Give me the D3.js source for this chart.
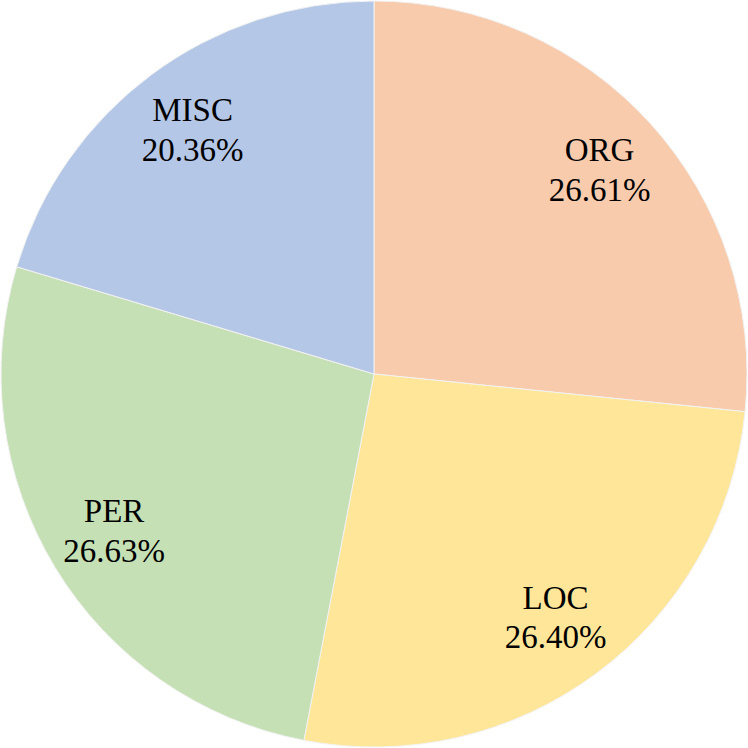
<!DOCTYPE html>
<html lang="en">
<head>
    <meta charset="UTF-8">
    <title>Entity type distribution</title>
    <script src="https://d3js.org/d3.v7.min.js"></script>
    <style>
        * { margin: 0; padding: 0; box-sizing: border-box; }
        body { background: #fff; }
    </style>
</head>
<body>
    <div id="chart"></div>
    <script>
        // Slices, clockwise from 12 o'clock
        const labels = ["ORG", "LOC", "PER", "MISC"];
        const shares = [26.61, 26.40, 26.63, 20.36];
        const colors = ["#F8CBAD", "#FFE699", "#C5E0B4", "#B4C7E7"];

        const width = 748, height = 748;
        const radius = 373;
        const labelRadius = 304;

        const svg = d3.select("#chart").append("svg")
            .attr("width", width)
            .attr("height", height);

        const g = svg.append("g")
            .attr("transform", `translate(${width / 2},${height / 2})`);

        const data = labels.map((name, i) => ({ name, value: shares[i], color: colors[i] }));

        const pie = d3.pie().value(d => d.value).sort(null);
        const arcs = pie(data);

        const arc = d3.arc().innerRadius(0).outerRadius(radius);
        const labelArc = d3.arc().innerRadius(labelRadius).outerRadius(labelRadius);

        g.selectAll("path")
            .data(arcs)
            .enter()
            .append("path")
            .attr("d", arc)
            .attr("fill", d => d.data.color)
            .attr("stroke", "#f2f2f2")
            .attr("stroke-width", 1);

        // two-line label centred on the slice centroid
        const lbl = g.selectAll("text")
            .data(arcs)
            .enter()
            .append("text")
            .attr("transform", d => `translate(${labelArc.centroid(d)})`)
            .attr("text-anchor", "middle")
            .style("font-family", "'Liberation Serif', 'Times New Roman', Times, serif")
            .style("font-size", "33px")
            .attr("fill", "#000");

        lbl.append("tspan")
            .attr("x", 0)
            .attr("dy", "-0.28em")
            .text(d => d.data.name);

        lbl.append("tspan")
            .attr("x", 0)
            .attr("dy", "1.21em")
            .text(d => d.data.value.toFixed(2) + "%");
    </script>
</body>
</html>
